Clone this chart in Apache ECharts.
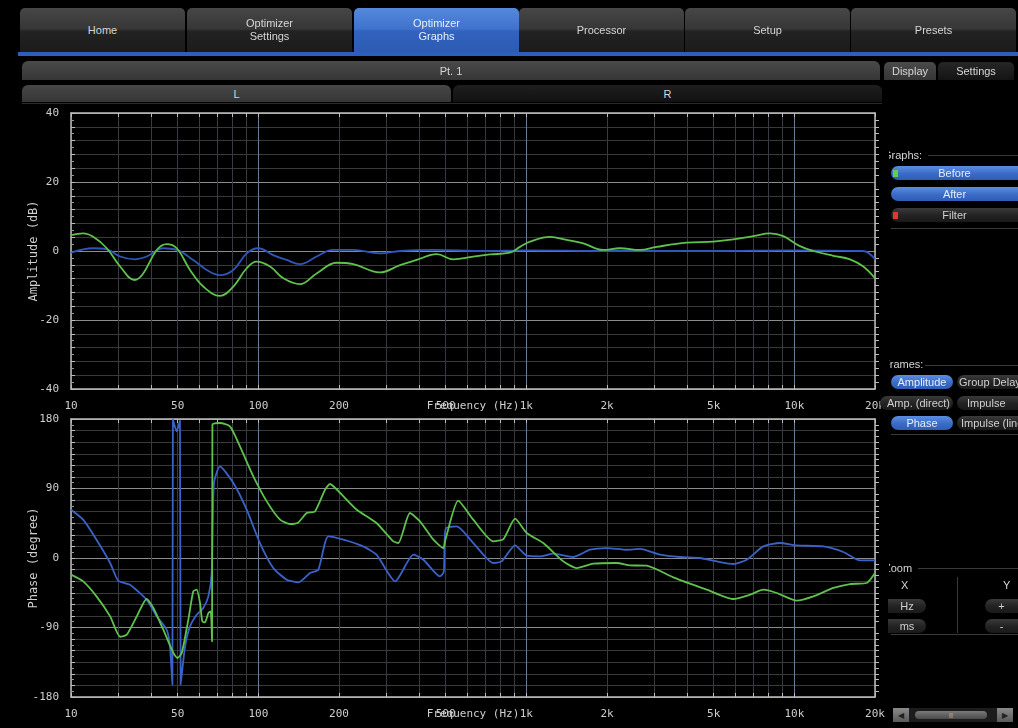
<!DOCTYPE html>
<html>
<head>
<meta charset="utf-8">
<script src="https://cdn.jsdelivr.net/npm/echarts@6/dist/echarts.min.js"></script>
<style>
html,body{margin:0;padding:0;background:#000;width:1018px;height:728px;overflow:hidden;}
#chart{position:absolute;left:0;top:0;width:1018px;height:728px;}
.ui{position:absolute;font-family:"Liberation Sans Narrow","Liberation Sans","DejaVu Sans",sans-serif;color:#d6d6d6;font-size:11px;box-sizing:border-box;}
.tab{top:8px;height:44px;width:165px;border-radius:5px 5px 0 0;background:linear-gradient(#474747 0%,#363636 48%,#232323 52%,#1b1b1b 100%);display:flex;align-items:center;justify-content:center;text-align:center;line-height:13px;}
.tab.active{background:linear-gradient(#5589dc 0%,#3f72cc 48%,#3263bf 52%,#2d5bb3 100%);color:#e8eefa;}
.bar{display:flex;align-items:center;justify-content:center;}
.pill{height:14px;border-radius:7px;display:flex;align-items:center;justify-content:center;white-space:nowrap;overflow:hidden;font-size:11px;}
.blue{background:linear-gradient(#5b8fe2,#3a6bc6 55%,#2f5db4);color:#e6ecf8;}
.dark{background:linear-gradient(#3a3a3a,#222 55%,#1a1a1a);color:#d0d0d0;}
.hline{position:absolute;height:1px;background:#3a3a3a;}
.clip{overflow:hidden;white-space:nowrap;}
</style>
</head>
<body>
<div id="chart"></div>

<!-- top tabs -->
<div class="ui tab" style="left:20px;">Home</div>
<div class="ui tab" style="left:187px;">Optimizer<br>Settings</div>
<div class="ui tab active" style="left:354px;">Optimizer<br>Graphs</div>
<div class="ui tab" style="left:519px;">Processor</div>
<div class="ui tab" style="left:685px;">Setup</div>
<div class="ui tab" style="left:851px;">Presets</div>
<div class="ui" style="left:18px;top:52px;width:1000px;height:4px;background:#2d5fbf;"></div>

<!-- Pt. 1 / L / R -->
<div class="ui bar" style="left:22px;top:61px;width:858px;height:19px;border-radius:6px 6px 0 0;background:linear-gradient(#4a4a4a,#363636);">Pt. 1</div>
<div class="ui bar" style="left:884px;top:62px;width:52px;height:18px;border-radius:5px 5px 0 0;background:linear-gradient(#4a4a4a,#363636);">Display</div>
<div class="ui bar" style="left:938px;top:62px;width:76px;height:18px;border-radius:5px 5px 0 0;background:linear-gradient(#262626,#141414);">Settings</div>
<div class="ui bar" style="left:22px;top:85px;width:429px;height:17px;border-radius:6px 6px 0 0;background:linear-gradient(#474747,#363636);">L</div>
<div class="ui bar" style="left:453px;top:85px;width:429px;height:17px;border-radius:6px 6px 0 0;background:linear-gradient(#1e1e1e,#121212);">R</div>
<div class="hline" style="left:22px;top:103px;width:860px;background:#2a2a2a;"></div>

<!-- Graphs section -->
<div class="ui clip" style="left:889px;top:149px;width:40px;height:14px;"><span style="position:relative;left:-6px;">Graphs:</span></div>
<div class="hline" style="left:928px;top:155px;width:90px;"></div>
<div class="ui pill blue" style="left:891px;top:166px;width:127px;border-radius:7px 0 0 7px;"><span style="position:absolute;left:2px;top:4px;width:5px;height:7px;background:#5fd04a;"></span>Before</div>
<div class="ui pill blue" style="left:891px;top:187px;width:127px;border-radius:7px 0 0 7px;">After</div>
<div class="ui pill dark" style="left:891px;top:208px;width:127px;border-radius:7px 0 0 7px;"><span style="position:absolute;left:2px;top:4px;width:5px;height:7px;background:#e03a2a;"></span>Filter</div>
<div class="hline" style="left:891px;top:228px;width:127px;"></div>

<!-- Frames section -->
<div class="ui clip" style="left:889px;top:358px;width:40px;height:14px;"><span style="position:relative;left:-6px;">Frames:</span></div>
<div class="hline" style="left:925px;top:365px;width:93px;"></div>
<div class="ui pill blue" style="left:891px;top:375px;width:62px;">Amplitude</div>
<div class="ui pill dark" style="left:957px;top:375px;width:70px;justify-content:flex-start;padding-left:2px;">Group Delay</div>
<div class="ui pill dark" style="left:880px;top:396px;width:73px;justify-content:flex-end;padding-right:3px;">Amp. (direct)</div>
<div class="ui pill dark" style="left:957px;top:396px;width:70px;justify-content:flex-start;padding-left:10px;">Impulse</div>
<div class="ui pill blue" style="left:891px;top:416px;width:62px;">Phase</div>
<div class="ui pill dark" style="left:957px;top:416px;width:80px;justify-content:flex-start;padding-left:4px;">Impulse (linear)</div>
<div class="hline" style="left:891px;top:434px;width:127px;"></div>

<!-- Zoom section -->
<div class="ui clip" style="left:889px;top:562px;width:30px;height:14px;"><span style="position:relative;left:-5px;">Zoom</span></div>
<div class="hline" style="left:918px;top:568px;width:100px;"></div>
<div class="ui" style="left:901px;top:579px;">X</div>
<div class="ui" style="left:1003px;top:579px;">Y</div>
<div class="ui" style="left:957px;top:577px;width:1px;height:56px;background:#3a3a3a;"></div>
<div class="ui pill dark" style="left:888px;top:599px;width:38px;border-radius:0 7px 7px 0;">Hz</div>
<div class="ui pill dark" style="left:888px;top:619px;width:38px;border-radius:0 7px 7px 0;">ms</div>
<div class="ui pill dark" style="left:985px;top:599px;width:33px;border-radius:7px 0 0 7px;">+</div>
<div class="ui pill dark" style="left:985px;top:619px;width:33px;border-radius:7px 0 0 7px;">-</div>
<div class="hline" style="left:891px;top:634px;width:127px;"></div>

<!-- scrollbar -->
<div class="ui" style="left:893px;top:708px;width:120px;height:14px;background:#1c1c1c;"></div>
<div class="ui bar" style="left:893px;top:708px;width:16px;height:14px;background:linear-gradient(#8a8a8a,#5a5a5a);font-size:8px;color:#222;">&#9664;</div>
<div class="ui bar" style="left:915px;top:711px;width:72px;height:8px;border-radius:4px;background:linear-gradient(#7a7a7a,#4a4a4a);font-size:7px;color:#bbb;">II</div>
<div class="ui bar" style="left:997px;top:708px;width:16px;height:14px;background:linear-gradient(#8a8a8a,#5a5a5a);font-size:8px;color:#222;">&#9654;</div>

<script>
// ---------- axis definitions ----------
const freqTickHz = [20, 50, 100, 200, 500, 1000, 2000, 5000, 10000, 20000];
const freqTickLabels = ['10', '50', '100', '200', '500', '1k', '2k', '5k', '10k', '20k'];
const freqGridHz = [20,30,40,50,60,70,80,90,100,200,300,400,500,600,700,800,900,1000,2000,3000,4000,5000,6000,7000,8000,9000,10000,20000];
const freqDecadeHz = [100, 1000, 10000];
const ampTickLabels = [-40, -20, 0, 20, 40];
const phaseTickLabels = [-180, -90, 0, 90, 180];

// ---------- amplitude (dB) ----------
const ampBeforeHz = [20,22.2,24.2,27.2,30.5,34.5,37.2,41.8,45.5,49.6,55.6,62.3,71.9,80.7,90.5,98.6,110.6,124,143,165,196,226,284,338,390,463,534,634,732,869,947,1032,1226,1415,1631,1938,2236,2655,3066,3968,4984,5921,7032,8116,9096,10500,11776,13978,16130,18086,20000];
const ampBeforeDb = [4.6,5.1,4.1,0.8,-4.5,-8.4,-6.5,0.3,2.0,0.8,-5.5,-10.3,-13,-10.3,-5,-3.1,-4.5,-7.9,-9.6,-6.5,-3.4,-3.8,-6.2,-4.1,-2.6,-0.9,-2.4,-1.6,-1.0,-0.5,1.2,2.7,4.1,3.2,2.2,0.3,0.8,0.3,1.2,2.4,2.7,3.4,4.3,5.1,4.3,1.4,0,-1.4,-2.4,-4.5,-7.9];
const ampAfterHz = [20,24.2,27.2,30.5,34.5,38.3,44.2,49.6,57.2,64.2,71.9,80.7,90.5,100,113.7,127.6,143,165,190,226,284,338,450,700,1000,2000,5000,10000,18000,20000];
const ampAfterDb = [-0.5,0.8,0.5,-1.6,-2.4,-1.6,0.8,0.3,-2.6,-5.5,-7.0,-5.5,-0.7,0.8,-1.2,-2.6,-3.8,-1.6,0.3,0.3,-0.7,0,0.3,0,0.2,0,0,0.2,0,-2.4];

// ---------- phase (degree) ----------
const phaseBeforeHz = [20,22.2,24.9,28,30.5,32.3,35.2,38.3,40.6,44.2,48.2,49.9,51.8,54.8,57.2,58.9,60.6,61.8,63.2,65.1,66.4,67.2,67.4,71.9,78.4,85.4,95.8,107.5,120.5,131.3,141,151.5,162.7,177.4,185,202,233,276,319,333,368,401,450,490,500,557,634,753,821,908,1003,1157,1374,1542,1778,2174,2438,2813,3536,4710,5921,6835,7660,8594,10208,11776,13978,16130,18621,20000];
const phaseBeforeDeg = [-21.6,-30.3,-49.7,-75.6,-102,-99.3,-75.6,-53.1,-64.7,-92.9,-123,-129.5,-123,-79.9,-43.2,-41,-58.3,-82,-83.4,-71.3,-69,-108,172.6,174.8,170.4,144.5,105.7,73.3,49.6,44,46.1,58.3,60.3,88.4,95.8,84.2,62.5,45.3,21.5,19.4,58.3,47.4,23.7,12.9,25,74.2,49.6,21.5,24.6,50.9,32.4,19.4,-4.4,-13,-7.4,-6.5,-9.5,-10,-25,-41,-53.1,-47.5,-41,-45.3,-55.3,-49.7,-38.8,-33.7,-32.4,-19.4];
const phaseAfterHz = [20,22.2,24.9,28,30,33.2,38.3,41.8,45.5,46.8,47.8,48.0,49.6,51,51.3,53.3,55.6,58.9,62.3,65.1,67,68.3,71.9,80.7,90.5,101.4,113.7,127.6,141,155.9,167.4,182.4,207.6,246,276,324,379,413,476,492,500,550,634,753,809,908,1003,1125,1261,1497,1729,1995,2370,2655,3154,3745,4446,5133,5921,6643,7660,8838,10208,12830,15232,17579,20000];
const phaseAfterDeg = [62.5,49.6,23.7,-6.5,-29.4,-34.6,-54,-75.6,-92.9,-114.5,-164,179,164,178,-164,-114.5,-88.6,-73.4,-64.7,-49.7,-19.4,97,118.6,97,62.5,19.4,-13,-28.1,-31.6,-19.4,-15.2,28,23.7,15,4.3,-30.3,4.3,-2.2,-23.8,-18,38,40.9,19.4,-6.5,-4.4,16.3,3,2.1,5.6,1.3,10.7,12.9,10.7,11.7,4.3,1.3,0,-4.4,-7.8,-2.2,15,19.4,16.3,15,7.8,-3.1,-3.1];

// ---------- build ----------
const L = Math.log10;
const xMin = L(20), xMax = L(20000);
const pairs = (hz, v) => hz.map((f, i) => [L(f), v[i]]);
const fmtFreq = v => {
  for (let i = 0; i < freqTickHz.length; i++) if (Math.abs(L(freqTickHz[i]) - v) < 1e-6) return freqTickLabels[i];
  return '';
};
const MONO = 'DejaVu Sans Mono';
const txt = '#cfcfcf';
const spine = {show: true, onZero: false, lineStyle: {color: '#bdbdbd', width: 1.5}};

function xAxes(grid) {
  return [
    { gridIndex: grid, type: 'value', min: xMin, max: xMax, position: 'bottom',
      axisLine: spine,
      axisTick: {show: true, inside: true, length: 4, customValues: freqGridHz.map(L), lineStyle: {color: '#bdbdbd'}},
      axisLabel: {customValues: freqTickHz.map(L), formatter: fmtFreq, color: txt, fontFamily: MONO, fontSize: 11, margin: 12},
      splitLine: {show: true, lineStyle: {color: '#353a45', width: 1}},
      name: 'Frequency (Hz)', nameLocation: 'middle', nameGap: 12, nameMoveOverlap: false,
      nameTextStyle: {color: txt, fontFamily: MONO, fontSize: 11, verticalAlign: 'top'} },
    { gridIndex: grid, type: 'value', min: xMin, max: xMax, position: 'top',
      axisLine: spine,
      axisTick: {show: true, inside: true, length: 4, customValues: freqGridHz.map(L), lineStyle: {color: '#bdbdbd'}},
      axisLabel: {show: false}, splitLine: {show: false} },
    { gridIndex: grid, type: 'value', min: xMin, max: xMax, position: 'top', offset: 0,
      axisLine: {show: false, onZero: false}, axisLabel: {show: false},
      axisTick: {show: false, customValues: freqDecadeHz.map(L)},
      splitLine: {show: true, lineStyle: {color: '#6f7a96', width: 1}} }
  ];
}
function yAxes(grid, min, max, minorStep, majorStep, labels, name) {
  return [
    { gridIndex: grid, type: 'value', min: min, max: max, interval: minorStep, position: 'left',
      axisLine: spine,
      axisTick: {show: true, inside: true, length: 4, lineStyle: {color: '#bdbdbd'}},
      minorTick: {show: true, splitNumber: 2, length: 3, lineStyle: {color: '#9a9a9a'}},
      axisLabel: {customValues: labels, color: txt, fontFamily: MONO, fontSize: 11, margin: 12},
      splitLine: {show: true, lineStyle: {color: '#3a3a3a', width: 1}},
      name: name, nameLocation: 'middle', nameGap: 31, nameRotate: 90, nameMoveOverlap: false,
      nameTextStyle: {color: txt, fontFamily: MONO, fontSize: 12} },
    { gridIndex: grid, type: 'value', min: min, max: max, interval: majorStep, position: 'right',
      axisLine: spine,
      axisTick: {show: false},
      minorTick: {show: true, splitNumber: majorStep / minorStep * 2, length: 4, lineStyle: {color: '#bdbdbd'}},
      axisLabel: {show: false},
      splitLine: {show: true, lineStyle: {color: '#8c8c8c', width: 1}} }
  ];
}

const GREEN = '#5fc24c', BLUE = '#2f56b8', BLUE2 = '#3a62c8';
const lineSeries = (name, data, xi, yi, color, smooth) => ({
  name, type: 'line', data, xAxisIndex: xi, yAxisIndex: yi, showSymbol: false, symbol: 'none',
  smooth, lineStyle: {color, width: 1.8}, itemStyle: {color}, z: 5, clip: true, animation: false
});

const chart = echarts.init(document.getElementById('chart'), null, {renderer: 'canvas'});
chart.setOption({
  backgroundColor: '#000',
  animation: false,
  grid: [
    {left: 71, top: 113, width: 804, height: 276, containLabel: false},
    {left: 71, top: 419, width: 804, height: 278, containLabel: false}
  ],
  xAxis: [...xAxes(0), ...xAxes(1)],
  yAxis: [...yAxes(0, -40, 40, 4, 20, ampTickLabels, 'Amplitude (dB)'),
          ...yAxes(1, -180, 180, 15, 90, phaseTickLabels, 'Phase (degree)')],
  series: [
    lineSeries('After', pairs(ampAfterHz, ampAfterDb), 0, 0, BLUE, 0.4),
    lineSeries('Before', pairs(ampBeforeHz, ampBeforeDb), 0, 0, GREEN, 0.4),
    lineSeries('After', pairs(phaseAfterHz, phaseAfterDeg), 3, 2, BLUE2, 0.2),
    lineSeries('Before', pairs(phaseBeforeHz, phaseBeforeDeg), 3, 2, GREEN, 0.2)
  ]
});
</script>
</body>
</html>
